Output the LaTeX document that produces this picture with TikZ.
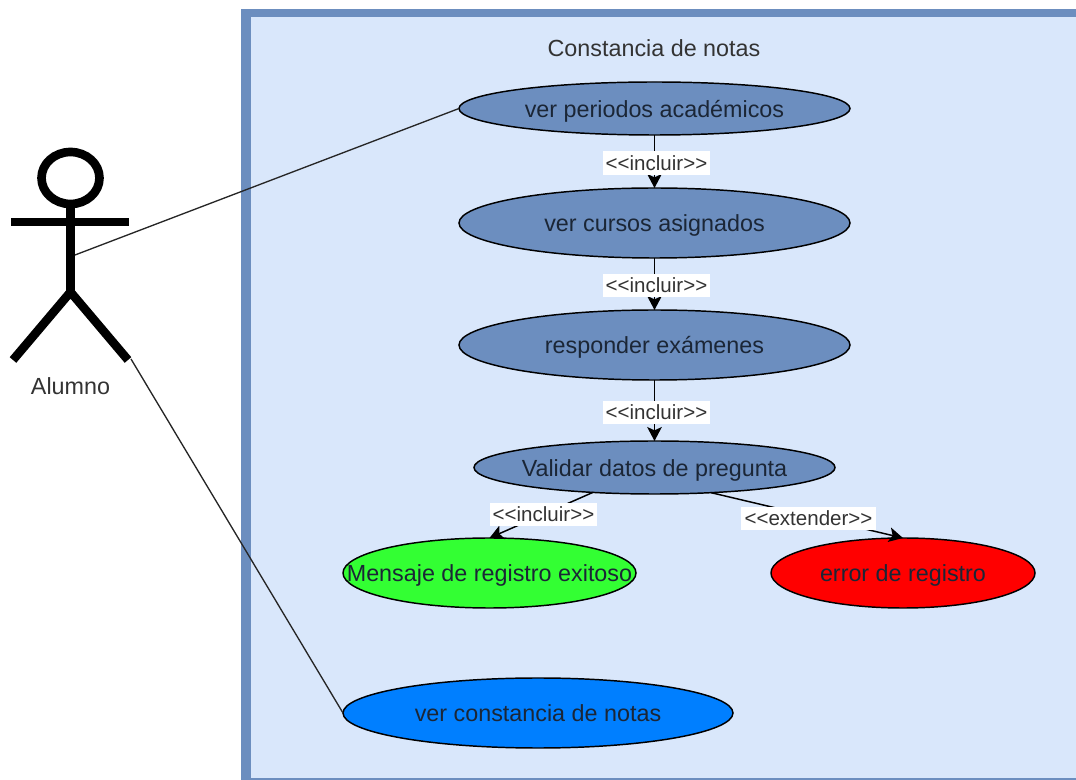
\documentclass[tikz,border=0pt]{standalone}
\usepackage{fontspec}
\setmainfont{Liberation Sans}
\usetikzlibrary{shapes.geometric,arrows.meta}
\definecolor{contfill}{HTML}{D9E7FB}
\definecolor{contline}{HTML}{6C8EBF}
\definecolor{uctext}{HTML}{1B2636}
\definecolor{lbltext}{HTML}{333333}
\newcommand{\uctxt}[1]{\makebox[0pt][c]{\raisebox{-6.5pt}[0pt][0pt]{#1}}}
\tikzset{
 x=0.75pt,y=-0.75pt,
 uc/.style={draw=black,line width=1.1pt,ellipse,inner sep=0pt,outer sep=0pt,text=uctext,font=\fontsize{17.5}{18}\selectfont},
 plain/.style={uc,fill=contline},
 edgelbl/.style={fill=white,text=lbltext,inner sep=0pt,font=\fontsize{15.4}{16}\selectfont},
 flow/.style={line width=1.1pt,-{Stealth[length=10.5pt,width=11pt,inset=2.5pt]},shorten >=0pt},
 assoc/.style={line width=1pt,draw=black!85},
 figure/.style={line width=6.5pt,draw=black},
}
\begin{document}
\begin{tikzpicture}
\useasboundingbox (0,0) rectangle (1076,780);
% container
\fill[contline] (241,9) rectangle (1076,780);
\fill[contfill] (250.5,17) rectangle (1076,778);
\node[text=lbltext,font=\fontsize{17.5}{18}\selectfont,inner sep=0pt] (title) at (654,48) {Constancia de notas};
% actor
\draw[figure] (70.5,178) ellipse [x radius=29,y radius=26];
\coordinate (neck) at (70.5,204);
\coordinate (hip) at (70.5,292);
\coordinate (arml) at (11,222);
\coordinate (armr) at (129,222);
\coordinate (legl) at (13,360);
\coordinate (legr) at (128,360);
\coordinate (chest) at (75,255);
\coordinate (foot) at (131,359);
\draw[figure] (neck) -- (hip);
\draw[figure] (arml) -- (armr);
\draw[figure,line join=miter] (legl) -- (hip) -- (legr);
\node[text=lbltext,font=\fontsize{17.5}{18}\selectfont,inner sep=0pt] (actor) at (70.5,386) {Alumno};
% use cases
\node[plain,minimum width=293.25pt,minimum height=39.75pt] (a) at (654.5,108.5) {\uctxt{ver periodos académicos}};
\node[plain,minimum width=293.25pt,minimum height=52.5pt] (b) at (654.5,223) {\uctxt{ver cursos asignados}};
\node[plain,minimum width=293.25pt,minimum height=52.5pt] (c) at (654.5,345) {\uctxt{responder exámenes}};
\node[plain,minimum width=270.75pt,minimum height=39.75pt] (d) at (654.5,467.5) {\uctxt{Validar datos de pregunta}};
\node[uc,fill={rgb,255:red,51;green,255;blue,51},minimum width=219.75pt,minimum height=52.5pt] (e) at (489.5,573) {\uctxt{Mensaje de registro exitoso}};
\node[uc,fill=red,minimum width=198pt,minimum height=52.5pt] (f) at (903,573) {\uctxt{error de registro}};
\node[uc,fill={rgb,255:red,0;green,127;blue,255},minimum width=292.5pt,minimum height=52.5pt] (g) at (538,713) {\uctxt{ver constancia de notas}};
% connectors
\draw[assoc] (chest) -- (a.west);
\draw[assoc] (foot) -- (g.west);
\draw[flow] (a.south) -- (b.north);
\draw[flow] (b.south) -- (c.north);
\draw[flow] (c.south) -- (d.north);
\draw[flow] (d.202.4) -- (e.north);
\draw[flow] (d.-24.4) -- (f.north);
% connector labels
\node[edgelbl,minimum width=80.25pt,minimum height=17.5pt] (l1) at (656.5,163) {<{}<incluir>{}>};
\node[edgelbl,minimum width=80.25pt,minimum height=17.5pt] (l2) at (656.5,285.5) {<{}<incluir>{}>};
\node[edgelbl,minimum width=80.25pt,minimum height=17.5pt] (l3) at (656.5,412.5) {<{}<incluir>{}>};
\node[edgelbl,minimum width=80.25pt,minimum height=17.5pt] (l4) at (543.5,514.5) {<{}<incluir>{}>};
\node[edgelbl,minimum width=101pt,minimum height=17.5pt] (l5) at (808.5,518.5) {<{}<extender>{}>};
\end{tikzpicture}
\end{document}
